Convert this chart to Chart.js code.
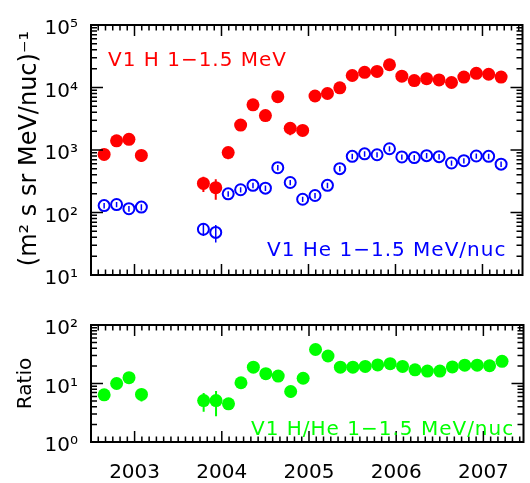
<!DOCTYPE html>
<html lang="en">
<head>
  <meta charset="UTF-8">
  <title>V1 H and He 1-1.5 MeV</title>
  <script src="https://cdn.jsdelivr.net/npm/chart.js"></script>
  <style>
    body { margin: 0; background: #fff; }
    canvas { position: absolute; left: 0; }
    #fluxChart { top: 0; }
    #ratioChart { top: 300px; }
  </style>
</head>
<body>
  <canvas id="fluxChart" width="530" height="300"></canvas>
  <canvas id="ratioChart" width="530" height="183"></canvas>

  <script>
    // decimal year of each sample
    const times = [2002.651, 2002.794, 2002.936, 2003.079,
      2003.792, 2003.934, 2004.077, 2004.220, 2004.362, 2004.505, 2004.647, 2004.790, 2004.933,
      2005.075, 2005.218, 2005.360, 2005.503, 2005.645, 2005.788, 2005.931, 2006.073, 2006.216,
      2006.358, 2006.501, 2006.644, 2006.786, 2006.929, 2007.071, 2007.214];
    const hFlux = [849, 1403, 1483, 820,
      292, 250, 910, 2505, 5290, 3550, 7130, 2229, 2056,
      7310, 8020, 9890, 15550, 17470, 18100, 23100, 15200, 12900,
      13830, 13200, 12030, 14690, 16870, 16300, 14690];
    const hErr = [0, 0, 0, 180,
      80, 90, 200, 0, 0, 0, 0, 500, 0,
      0, 0, 0, 0, 0, 0, 0, 0, 0,
      0, 0, 0, 0, 0, 0, 0];
    const heFlux = [129, 134, 115, 122,
      54, 48, 199, 231, 272, 245, 521, 302, 163,
      187, 272, 503, 792, 869, 840, 1047, 774, 756,
      811, 783, 620, 674, 802, 792, 593];
    const heErr = [13, 13, 12, 14,
      12, 15, 20, 23, 27, 25, 52, 30, 16,
      19, 27, 50, 79, 87, 84, 105, 77, 76,
      81, 78, 62, 67, 80, 79, 59];
    const ratio = [6.4, 10.0, 12.6, 6.5,
      5.1, 5.1, 4.5, 10.3, 19.0, 14.7, 13.4, 7.3, 12.3,
      38.1, 29.5, 19.0, 19.0, 19.6, 20.8, 21.8, 19.6, 17.1,
      16.3, 16.3, 19.2, 20.6, 20.6, 20.1, 23.9];
    const ratioErr = [0, 0, 0, 1.6,
      1.8, 2.35, 0.9, 0, 0, 0, 0, 1.6, 0,
      0, 0, 0, 0, 0, 0, 0, 0, 0,
      0, 0, 0, 0, 0, 0, 0];

    const yearTicks = [2003, 2004, 2005, 2006, 2007];
    const fluxTicks = [1e1, 1e2, 1e3, 1e4, 1e5];
    const ratioTicks = [1e0, 1e1, 1e2];
    const supDigits = ['⁰', '¹', '²', '³', '⁴', '⁵'];

    const FONT = "'DejaVu Sans', sans-serif";
    Chart.defaults.font.family = FONT;
    Chart.defaults.color = '#000';

    const pts = vals => times.map((t, i) => ({ x: t, y: vals[i] }));
    const powLabel = v => '10' + supDigits[Math.round(Math.log10(v))];

    // box + inward ticks on all four sides
    const frame = {
      id: 'frame',
      afterDraw(chart) {
        const { ctx, chartArea: a, scales: { x, y } } = chart;
        ctx.save();
        ctx.strokeStyle = '#000';
        ctx.lineWidth = 1.5;
        ctx.beginPath();
        for (let yr = Math.floor(x.min); yr <= Math.ceil(x.max); yr++) {
          for (let m = 0; m < 12; m++) {
            const v = yr + m / 12;
            if (v <= x.min || v >= x.max) continue;
            const px = x.getPixelForValue(v);
            const len = m === 0 ? 11 : 5.5;
            ctx.moveTo(px, a.bottom); ctx.lineTo(px, a.bottom - len);
            ctx.moveTo(px, a.top); ctx.lineTo(px, a.top + len);
          }
        }
        const d0 = Math.round(Math.log10(y.min)), d1 = Math.round(Math.log10(y.max));
        for (let d = d0; d <= d1; d++) {
          for (let k = 1; k < 10; k++) {
            const v = k * Math.pow(10, d);
            if (v > y.max * 1.0001) break;
            const py = y.getPixelForValue(v);
            const len = k === 1 ? 12 : 6;
            ctx.moveTo(a.left, py); ctx.lineTo(a.left + len, py);
            ctx.moveTo(a.right, py); ctx.lineTo(a.right - len, py);
          }
        }
        ctx.stroke();
        ctx.lineWidth = 2;
        ctx.strokeRect(a.left, a.top, a.right - a.left, a.bottom - a.top);
        ctx.restore();
      }
    };

    const errorBars = {
      id: 'errorBars',
      afterDatasetsDraw(chart) {
        const { ctx, scales: { x, y } } = chart;
        ctx.save();
        chart.data.datasets.forEach(ds => {
          if (!ds.errors) return;
          ctx.strokeStyle = ds.borderColor;
          ctx.lineWidth = ds.errorWidth;
          ctx.beginPath();
          ds.data.forEach((p, i) => {
            const e = ds.errors[i];
            if (!e) return;
            const px = x.getPixelForValue(p.x);
            ctx.moveTo(px, y.getPixelForValue(p.y + e));
            ctx.lineTo(px, y.getPixelForValue(Math.max(p.y - e, y.min)));
          });
          ctx.stroke();
        });
        ctx.restore();
      }
    };

    function notes(items, title) {
      return {
        id: 'notes',
        afterDraw(chart) {
          const { ctx, chartArea: a } = chart;
          ctx.save();
          ctx.textAlign = 'left';
          ctx.textBaseline = 'alphabetic';
          items.forEach(n => {
            ctx.font = '20px ' + FONT;
            ctx.letterSpacing = '1px';
            ctx.fillStyle = n.color;
            ctx.fillText(n.text, a.left + n.dx, a.top + n.dy);
          });
          ctx.letterSpacing = '0px';
          ctx.translate(title.x, (a.top + a.bottom) / 2 + title.shift);
          ctx.rotate(-Math.PI / 2);
          ctx.textAlign = 'center';
          ctx.textBaseline = 'middle';
          ctx.fillStyle = '#000';
          ctx.font = title.size + 'px ' + FONT;
          ctx.fillText(title.text, 0, 0);
          ctx.restore();
        }
      };
    }

    function logAxis(min, max, tickVals, width) {
      return {
        type: 'logarithmic',
        min: min,
        max: max,
        afterBuildTicks: s => { s.ticks = tickVals.map(v => ({ value: v })); },
        afterFit: s => { s.width = width; },
        ticks: { callback: powLabel, font: { size: 20 }, padding: 13, labelOffset: 4 },
        grid: { display: false, drawTicks: false },
        border: { display: false }
      };
    }

    new Chart(document.getElementById('fluxChart'), {
      type: 'scatter',
      data: {
        datasets: [{
          label: 'V1 H 1-1.5 MeV',
          data: pts(hFlux),
          errors: hErr,
          errorWidth: 2,
          borderColor: '#ff0000',
          pointBackgroundColor: '#ff0000',
          pointBorderWidth: 0,
          pointRadius: 6.5
        }, {
          label: 'V1 He 1-1.5 MeV/nuc',
          data: pts(heFlux),
          errors: heErr,
          errorWidth: 1.5,
          borderColor: '#0000ff',
          pointBackgroundColor: 'rgba(0,0,0,0)',
          pointBorderColor: '#0000ff',
          pointBorderWidth: 2,
          pointRadius: 5.5
        }]
      },
      options: {
        responsive: false,
        animation: false,
        events: [],
        layout: { padding: { left: 0, right: 2, top: 16, bottom: 20 } },
        plugins: { legend: { display: false }, tooltip: { enabled: false } },
        scales: {
          x: { type: 'linear', min: 2002.5, max: 2007.46, display: false },
          y: logAxis(1e1, 1e5, fluxTicks, 91)
        }
      },
      plugins: [errorBars, frame, notes([
        { text: 'V1 H 1\u22121.5 MeV', color: '#ff0000', dx: 17, dy: 41 },
        { text: 'V1 He 1\u22121.5 MeV/nuc', color: '#0000ff', dx: 176, dy: 231 }
      ], { text: '(m² s sr MeV/nuc)⁻¹', size: 24, x: 30, shift: -1.5 })]
    });

    new Chart(document.getElementById('ratioChart'), {
      type: 'scatter',
      data: {
        datasets: [{
          label: 'V1 H/He 1-1.5 MeV/nuc',
          data: pts(ratio),
          errors: ratioErr,
          errorWidth: 2,
          borderColor: '#00ff00',
          pointBackgroundColor: '#00ff00',
          pointBorderWidth: 0,
          pointRadius: 6.5
        }]
      },
      options: {
        responsive: false,
        animation: false,
        events: [],
        layout: { padding: { left: 0, right: 2, top: 10, bottom: 0 } },
        plugins: { legend: { display: false }, tooltip: { enabled: false } },
        scales: {
          x: {
            type: 'linear', min: 2002.5, max: 2007.46,
            afterBuildTicks: s => { s.ticks = yearTicks.map(v => ({ value: v })); },
            afterFit: s => { s.height = 41; },
            ticks: { callback: v => String(v), font: { size: 20 }, padding: 19, maxRotation: 0, autoSkip: false },
            grid: { display: false, drawTicks: false },
            border: { display: false }
          },
          y: logAxis(1e0, 1e2, ratioTicks, 91)
        }
      },
      plugins: [errorBars, frame, notes([
        { text: 'V1 H/He 1\u22121.5 MeV/nuc', color: '#00ff00', dx: 160, dy: 110 }
      ], { text: 'Ratio', size: 20, x: 26, shift: 0 })]
    });
  </script>
</body>
</html>
